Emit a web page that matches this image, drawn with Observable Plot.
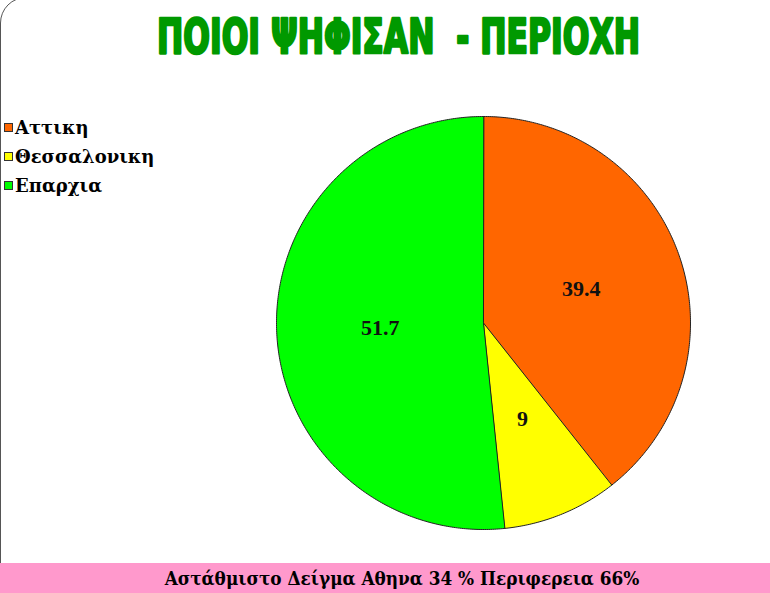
<!DOCTYPE html>
<html>
<head>
<meta charset="utf-8">
<script src="https://cdn.jsdelivr.net/npm/d3@7"></script>
<script src="https://cdn.jsdelivr.net/npm/@observablehq/plot@0.6"></script>
<style>
  html, body { margin: 0; padding: 0; background: #fff; }
  #page { position: relative; width: 770px; height: 593px; overflow: hidden; background: #fff; }
  #frame { position: absolute; left: 0; top: -3px; width: 820px; height: 620px; border: 1px solid #555; border-radius: 26px; box-sizing: border-box; }
  #chart { position: absolute; left: 0; top: 0; }
  #title { position: absolute; left: 0; top: 0; width: 770px; height: 70px; }
  #legend { position: absolute; left: 4px; top: 113px; font-family: 'DejaVu Serif', serif; font-weight: bold; font-size: 18px; color: #000; }
  .item { height: 29px; line-height: 27px; display: flex; align-items: center; }
  .sw { width: 7px; height: 7px; border: 1px solid #333; margin-right: 2px; }
  #footer { position: absolute; left: 0; top: 563px; width: 770px; height: 30px; background: #ff99cc; }
</style>
</head>
<body>
<div id="page">
  <div id="frame"></div>
  <div id="chart"></div>
  <svg id="title" width="770" height="70"></svg>
  <div id="legend"></div>
  <svg id="footer" width="770" height="30"></svg>
</div>
<script>
const title = "ΠΟΙΟΙ ΨΗΦΙΣΑΝ  - ΠΕΡΙΟΧΗ";
const footerText = "Αστάθμιστο Δείγμα Αθηνα 34 % Περιφερεια 66%";
const categories = ["Αττικη", "Θεσσαλονικη", "Επαρχια"];
const values = [39.4, 9, 51.7];
const labels = ["39.4", "9", "51.7"];
const colors = ["#ff6600", "#ffff00", "#00ff00"];

// slices via d3.pie (clockwise from 12 o'clock)
const arcs = d3.pie().sort(null).value(d => d)(values);
const polys = [];
const labelPts = [];
arcs.forEach((a, i) => {
  const cat = categories[i];
  polys.push({cat, x: 0, y: 0});
  const n = Math.max(2, Math.ceil((a.endAngle - a.startAngle) / 0.01));
  for (let k = 0; k <= n; k++) {
    const t = a.startAngle + (a.endAngle - a.startAngle) * k / n;
    polys.push({cat, x: Math.sin(t), y: Math.cos(t)});
  }
  const m = (a.startAngle + a.endAngle) / 2;
  const r = 0.5;
  labelPts.push({cat, label: labels[i], x: r * Math.sin(m), y: r * Math.cos(m)});
});

const chart = Plot.plot({
  width: 770,
  height: 593,
  margin: 0,
  x: {domain: [-1, 1], range: [276, 690], axis: null},
  y: {domain: [-1, 1], range: [529, 116], axis: null},
  color: {domain: categories, range: colors},
  marks: [
    Plot.line(polys, {x: "x", y: "y", z: "cat", fill: "cat", stroke: "#222", strokeWidth: 1, curve: "linear-closed"}),
    Plot.text(labelPts, {x: "x", y: "y", text: "label", fontFamily: "Liberation Serif", fontWeight: "bold", fontSize: 22, fill: "#111"})
  ]
});
chart.style.background = "transparent";
document.getElementById("chart").appendChild(chart);

// title: measured then scaled horizontally to the reference width
const tg = d3.select("#title").append("g");
const tt = tg.append("text")
  .attr("x", 0).attr("y", 0)
  .attr("font-family", "DejaVu Sans Condensed, DejaVu Sans")
  .attr("font-weight", "bold").attr("font-size", 48)
  .attr("fill", "#009900").attr("stroke", "#009900").attr("stroke-width", 2.6)
  .attr("stroke-linejoin", "round")
  .attr("xml:space", "preserve").style("white-space", "pre")
  .text(title);
const tw = tt.node().getComputedTextLength();
tg.attr("transform", `translate(157,53) scale(${483 / tw},1)`);

// legend
const leg = document.getElementById("legend");
categories.forEach((c, i) => {
  const item = document.createElement("div");
  item.className = "item";
  const sw = document.createElement("span");
  sw.className = "sw";
  sw.style.background = colors[i];
  const tx = document.createElement("span");
  tx.textContent = c;
  item.appendChild(sw);
  item.appendChild(tx);
  leg.appendChild(item);
});

// footer
const ft = d3.select("#footer").append("text")
  .attr("x", 402).attr("y", 22).attr("text-anchor", "middle")
  .attr("font-family", "DejaVu Serif").style("font-stretch", "condensed").attr("font-weight", "bold").attr("font-size", 20)
  .attr("fill", "#000")
  .text(footerText);
const fw = ft.node().getComputedTextLength();
ft.attr("font-size", Math.min(21, 20 * 475 / fw));
</script>
</body>
</html>
